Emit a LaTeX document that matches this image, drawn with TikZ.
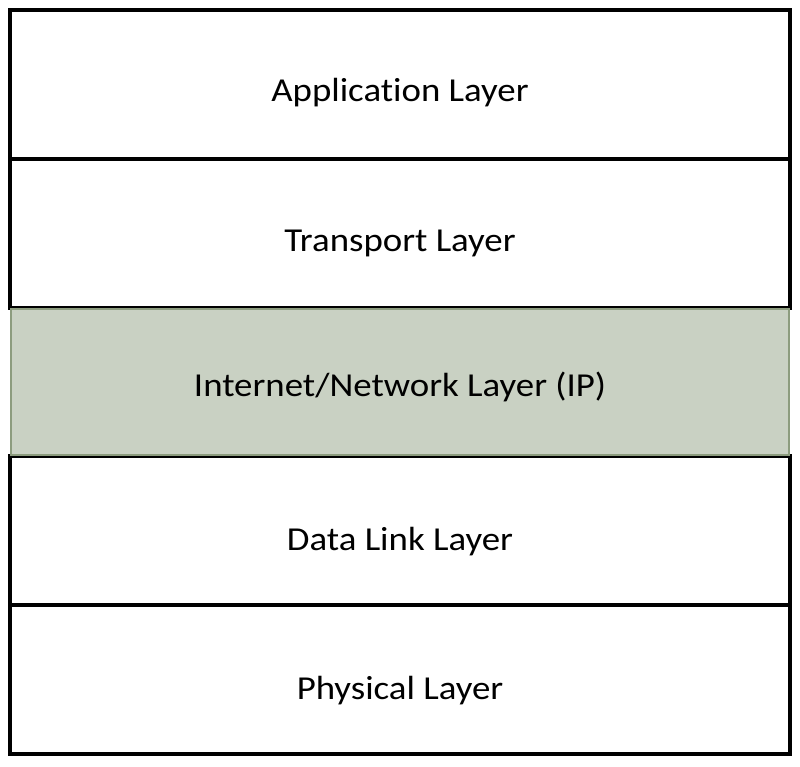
\documentclass[tikz,border=0pt]{standalone}
\usepackage{fontspec}
\setmainfont[Ligatures=NoCommon,FakeStretch=1.1]{Carlito}
\definecolor{ipfill}{HTML}{C9D1C3}
\definecolor{ipedge}{HTML}{8C9C7E}
\begin{document}
\begin{tikzpicture}[x=1pt,y=-1pt,
  layer/.style={draw=black,line width=4pt,fill=white,minimum width=780pt,minimum height=148.8pt,inner sep=0pt,outer sep=0pt,anchor=north west},
  iplayer/.style={layer,draw=ipedge,line width=2pt,fill=ipfill},
  lbl/.style={font=\fontsize{33.5}{40}\selectfont,text=black,anchor=base,inner sep=0pt}]
\useasboundingbox (0,0) rectangle (800,767);
\fill[white] (0,0) rectangle (800,767);
\node[layer] (app) at (10,10) {};
\node[layer] (trans) at (10,158.8) {};
\node[layer] (link) at (10,456.4) {};
\node[layer] (phys) at (10,605.2) {};
\node[iplayer,minimum width=778pt,minimum height=146.8pt] (ip) at (11,308.6) {};
\node[lbl] (tapp) at ([yshift=-17pt]app.center) {Application Layer};
\node[lbl] (ttrans) at ([yshift=-18pt]trans.center) {Transport Layer};
\node[lbl] (tip) at ([yshift=-14pt]ip.center) {Internet/Network Layer (IP)};
\node[lbl] (tlink) at ([yshift=-20pt]link.center) {Data Link Layer};
\node[lbl] (tphys) at ([yshift=-20pt]phys.center) {Physical Layer};
\end{tikzpicture}
\end{document}
